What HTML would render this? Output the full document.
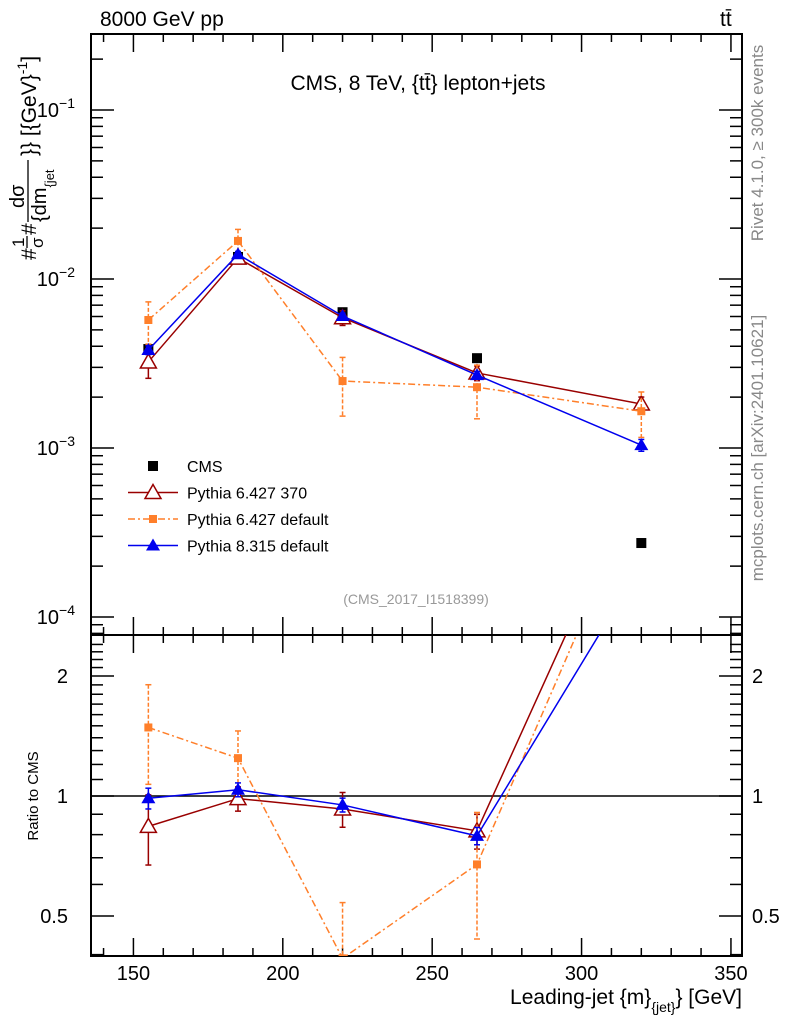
<!DOCTYPE html>
<html><head><meta charset="utf-8"><style>
body{margin:0;background:#fff}
svg{display:block;font-family:"Liberation Sans",sans-serif}
</style></head><body>
<svg id="c" width="786" height="1024" xmlns="http://www.w3.org/2000/svg"></svg>
<script>
const xs = [155, 185, 220, 265, 320];
const cms = [0.00385, 0.0135, 0.00636, 0.00340, 0.000274];
const py6370 = [0.00323, 0.0133, 0.0059, 0.00278, 0.00182];
const py6def = [0.00572, 0.0168, 0.00249, 0.00229, 0.00165];
const py8 = [0.00380, 0.0140, 0.00604, 0.00270, 0.00104];
const err6370 = [0.2, 0.07, 0.1, 0.1, 0.1];
const err6def = [0.28, 0.17, 0.38, 0.35, 0.3];
const err8 = [0.06, 0.04, 0.04, 0.05, 0.08];
const xTicks = [150, 200, 250, 300, 350];
const ratioTicks = [0.5, 1, 2];

const NS="http://www.w3.org/2000/svg";
const svg=document.getElementById('c');
function el(tag,attrs,parent){const e=document.createElementNS(NS,tag);for(const k in attrs)e.setAttribute(k,attrs[k]);(parent||svg).appendChild(e);return e;}
const L=91,R=742,T=34,MB=635,RB=956;
const X=v=>L+(v-135.8)*(R-L)/(353.7-135.8);
const Y=v=>110+(-1-Math.log10(v))*169;
const YR=v=>796-Math.log2(v)*120;

const defs=el('defs',{});
const c1=el('clipPath',{id:'cm'},defs);el('rect',{x:L,y:T,width:R-L,height:MB-T},c1);
const c2=el('clipPath',{id:'cr'},defs);el('rect',{x:L,y:MB,width:R-L,height:RB-MB},c2);

let f=el('rect',{x:L,y:T,width:R-L,height:MB-T,fill:'none',stroke:'#000','stroke-width':2});

f=el('rect',{x:L,y:MB,width:R-L,height:RB-MB,fill:'none',stroke:'#000','stroke-width':2});


const tg=el('g',{stroke:'#000','stroke-width':1.5});

for(let v=140;v<=350;v+=10){const x=X(v);const maj=v%50===0;const len=maj?18:8;
 [T,MB].forEach(y0=>{el('line',{x1:x,x2:x,y1:y0,y2:y0+len},tg);});
 [MB,RB].forEach(y0=>{el('line',{x1:x,x2:x,y1:y0,y2:y0-len},tg);});}
xTicks.forEach(v=>{const t=el('text',{x:X(v),y:980,'font-size':20,'text-anchor':'middle'});t.textContent=v;
 });

const yg=el('g',{stroke:'#000','stroke-width':1.5});

for(let e=-5;e<=0;e++)for(let m=1;m<10;m++){const v=m*Math.pow(10,e);const y=Y(v);if(y<T||y>MB)continue;const len=m===1?23:12;
 el('line',{x1:L,x2:L+len,y1:y,y2:y},yg);el('line',{x1:R,x2:R-len,y1:y,y2:y},yg);}
[-1,-2,-3,-4].forEach(e=>{const t=el('text',{x:75,y:Y(Math.pow(10,e))+7,'font-size':20,'text-anchor':'end'});
 t.innerHTML='10<tspan dy="-9" font-size="14">−'+(-e)+'</tspan>';
 });
for(let v=0.4;v<=2.5;v+=0.1){const y=YR(v);if(y<MB||y>RB)continue;const maj=[0.5,1,2].some(a=>Math.abs(a-v)<1e-6);const len=maj?23:12;
 el('line',{x1:L,x2:L+len,y1:y,y2:y},yg);el('line',{x1:R,x2:R-len,y1:y,y2:y},yg);}
ratioTicks.forEach(v=>{[[68,'end'],[752,'start']].forEach(([x,a])=>{const t=el('text',{x:x,y:YR(v)+7,'font-size':20,'text-anchor':a});t.textContent=v;
 });});
let ln=el('line',{x1:L,x2:R,y1:YR(1),y2:YR(1),stroke:'#000','stroke-width':1.5});


function marker(g,type,x,y,color){
 if(type==='sq')el('rect',{x:x-5,y:y-5,width:10,height:10,fill:color},g);
 else if(type==='osq')el('rect',{x:x-4,y:y-4,width:8,height:8,fill:color},g);
 else if(type==='tri')el('polygon',{points:`${x},${y-7} ${x-7},${y+5} ${x+7},${y+5}`,fill:color},g);
 else if(type==='otri')el('polygon',{points:`${x},${y-8} ${x-8},${y+6} ${x+8},${y+6}`,fill:'#fff',stroke:color,'stroke-width':1.5},g);
}
const series=[
 {name:'pythia-6427-370',vals:py6370,err:err6370,color:'#990000',dash:'',m:'otri'},
 {name:'pythia-6427-default',vals:py6def,err:err6def,color:'#ff7f2a',dash:'7,3,2,3',m:'osq'},
 {name:'pythia-8315-default',vals:py8,err:err8,color:'#0000ee',dash:'',m:'tri'}];

const cg=el('g',{'clip-path':'url(#cm)'});

xs.forEach((x,i)=>marker(cg,'sq',X(x),Y(cms[i]),'#000'));

series.forEach(s=>{
 [['main',Y,s.vals,'cm'],['ratio',YR,s.vals.map((v,i)=>v/cms[i]),'cr']].forEach(([panel,F,vals,clip])=>{
  const g=el('g',{'clip-path':`url(#${clip})`});
  
  el('polyline',{points:xs.map((x,i)=>X(x)+','+F(vals[i])).join(' '),fill:'none',stroke:s.color,'stroke-width':1.5,'stroke-dasharray':s.dash},g);
  xs.forEach((x,i)=>{const px=X(x),y1=F(vals[i]*(1+s.err[i])),y2=F(vals[i]*(1-s.err[i]));
   el('line',{x1:px,x2:px,y1:y1,y2:y2,stroke:s.color,'stroke-width':1.5,'stroke-dasharray':s.dash?'4,2':''},g);
   el('line',{x1:px-3,x2:px+3,y1:y1,y2:y1,stroke:s.color,'stroke-width':1.5},g);
   el('line',{x1:px-3,x2:px+3,y1:y2,y2:y2,stroke:s.color,'stroke-width':1.5},g);
   marker(g,s.m,px,F(vals[i]),s.color);});
 });
});

const lg=el('g',{});
const leg=[['CMS','#000','','sq'],['Pythia 6.427 370','#990000','','otri'],['Pythia 6.427 default','#ff7f2a','7,3,2,3','osq'],['Pythia 8.315 default','#0000ee','','tri']];
leg.forEach((e,i)=>{const y=466+i*26.5;const g=el('g',{},lg);
 if(i>0)el('line',{x1:128,x2:178,y1:y,y2:y,stroke:e[1],'stroke-width':1.5,'stroke-dasharray':e[2]},g);
 marker(g,e[3],153,y,e[1]);
 const t=el('text',{x:187,y:y+6,'font-size':16},g);t.textContent=e[0];});

function txt(s,attrs,name,parent){const t=el('text',attrs,parent);t.innerHTML=s;return t;}
txt('8000 GeV pp',{x:100,y:26,'font-size':21},'energy-label');
txt('tt̄',{x:720,y:26,'font-size':21},'process-label');
txt('CMS, 8 TeV, {tt̄} lepton+jets',{x:418,y:90,'font-size':21,'text-anchor':'middle'},'plot-title');
txt('(CMS_2017_I1518399)',{x:416,y:604,'font-size':14,'text-anchor':'middle',fill:'#999'},'analysis-id');
txt('Leading-jet {m}<tspan dy="8" font-size="14">{jet}</tspan><tspan dy="-8">} [GeV]</tspan>',{x:742,y:1004,'font-size':21,'text-anchor':'end'},'x-axis-title');
txt('Ratio to CMS',{x:0,y:0,'font-size':15,'text-anchor':'middle',transform:'translate(38,796) rotate(-90)'},'ratio-axis-title');
// y-axis title as fraction, rotated
const yt=el('g',{transform:'translate(0,260) rotate(-90)','font-size':21});

txt('#',{x:0,y:36},'y-title-hash',yt);
txt('1',{x:13,y:24,'font-size':17},'y-title-one',yt);
el('line',{x1:12,x2:24,y1:27,y2:27,stroke:'#000','stroke-width':1.3},yt);
txt('σ',{x:12,y:43,'font-size':17},'y-title-sigma',yt);
txt('#',{x:25,y:36},'y-title-hash2',yt);
txt('dσ',{x:52,y:24,'font-size':20},'y-title-dsigma',yt);
el('line',{x1:38,x2:100,y1:28,y2:28,stroke:'#000','stroke-width':1.3},yt);
txt('{dm<tspan dy="8" font-size="13">{jet</tspan>',{x:38,y:46,'font-size':20},'y-title-dm',yt);
txt('}} [{GeV}<tspan dy="-9" font-size="14">-1</tspan><tspan dy="9">]</tspan>',{x:104,y:36},'y-title-units',yt);
txt('Rivet 4.1.0, ≥ 300k events',{x:0,y:0,'font-size':17,fill:'#888','text-anchor':'middle',transform:'translate(763,143) rotate(-90)'},'rivet-label');
txt('mcplots.cern.ch [arXiv:2401.10621]',{x:0,y:0,'font-size':17,fill:'#888','text-anchor':'middle',transform:'translate(763,448) rotate(-90)'},'mcplots-label');
</script>
</body></html>
